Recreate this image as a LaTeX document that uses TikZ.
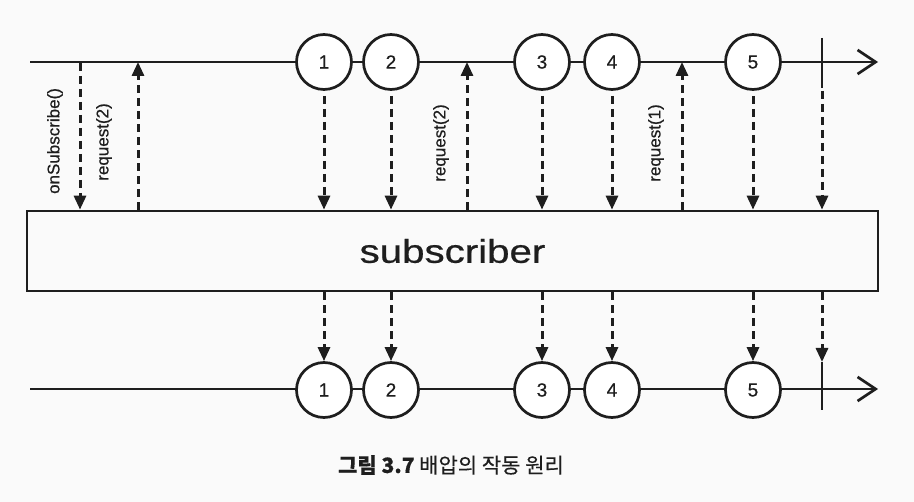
\documentclass[tikz,border=0pt]{standalone}
\usepackage{fontspec}
\setmainfont{Liberation Sans}[FakeBold=0.6]
\newfontfamily\krfont{Noto Sans CJK KR}[FakeBold=0.4]
\usetikzlibrary{arrows.meta}
\definecolor{ink}{HTML}{1E1E1E}
\begin{document}
\begin{tikzpicture}[x=1pt,y=-1pt,
  ink/.style={draw=ink,line width=2.7pt},
  ev/.style={circle,ink,minimum size=55pt,inner sep=0pt,fill=white,font=\fontsize{19}{19}\selectfont,text=ink},
  timeline/.style={ink,-{Straight Barb[length=18pt,width=24pt,line width=2.7pt]}},
  darr/.style={draw=ink,line width=3pt,dash pattern=on 8pt off 5pt,-{Triangle[length=14pt,width=12pt]}},
  lbl/.style={rotate=90,font=\fontsize{17}{17}\selectfont,text=ink,inner sep=0pt},
  tick/.style={ink}
]
\useasboundingbox[fill=black!2] (0,0) rectangle (914,502);

% top timeline
\coordinate (ts) at (30,62);
\coordinate (te) at (878,62);
\draw[timeline] (ts) -- (te);
\coordinate (tt1) at (822,38);
\coordinate (tt2) at (822,88);
\draw[tick] (tt1) -- (tt2);
\node[ev] (t1) at (324,62) {1};
\node[ev] (t2) at (391,62) {2};
\node[ev] (t3) at (542,62) {3};
\node[ev] (t4) at (612,62) {4};
\node[ev] (t5) at (753,62) {5};

% subscriber box
\node[ink,minimum width=851pt,minimum height=80pt,inner sep=0pt] (sub) at (452.5,251)
  {\scalebox{1.22}[1]{\fontsize{33}{33}\selectfont\color{ink}subscriber}};

% bottom timeline
\coordinate (bs) at (30,389);
\coordinate (be) at (878,389);
\draw[timeline] (bs) -- (be);
\coordinate (bt1) at (822,362);
\coordinate (bt2) at (822,410);
\draw[tick] (bt1) -- (bt2);
\node[ev] (b1) at (324,390) {1};
\node[ev] (b2) at (391,390) {2};
\node[ev] (b3) at (542,390) {3};
\node[ev] (b4) at (612,390) {4};
\node[ev] (b5) at (753,390) {5};

% onSubscribe / requests on top line
\coordinate (os) at (80,63);
\coordinate (rq1) at (138,62);
\coordinate (rq2) at (467,62);
\coordinate (rq3) at (682,62);
\draw[darr] (os) -- (os |- sub.north);
\draw[darr] (rq1 |- sub.north) -- (rq1);
\draw[darr] (rq2 |- sub.north) -- (rq2);
\draw[darr] (rq3 |- sub.north) -- (rq3);
\node[lbl] (los) at (55,141) {onSubscribe()};
\node[lbl] (lr1) at (104,142) {request(2)};
\node[lbl] (lr2) at (441,143) {request(2)};
\node[lbl] (lr3) at (656,143) {request(1)};

% top events to subscriber
\foreach \n in {t1,t2,t3,t4,t5}{
  \draw[darr] ([yshift=-5pt]\n.south) -- (\n |- sub.north);
}
\draw[darr] ([yshift=-3pt]tt2) -- (tt2 |- sub.north);

% subscriber to bottom events
\foreach \n/\m in {t1/b1,t2/b2,t3/b3,t4/b4,t5/b5}{
  \draw[darr] (\n |- sub.south) -- (\m.north);
}
\draw[darr] (tt2 |- sub.south) -- (bt1);

% caption
\node[font=\krfont\fontsize{21}{21}\selectfont,text=ink] (cap) at (451,465)
  {\textbf{그림 3.7} 배압의 작동 원리};
\end{tikzpicture}
\end{document}
